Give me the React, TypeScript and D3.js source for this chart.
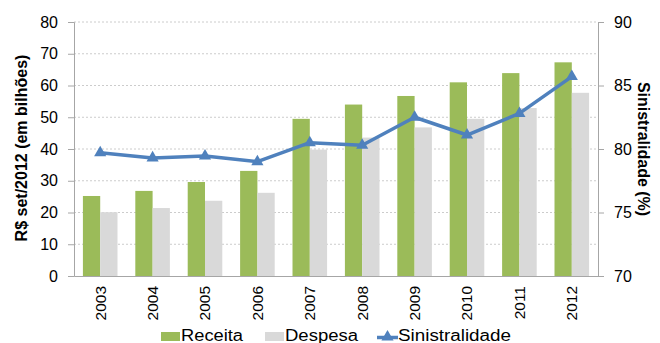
import React, { useEffect, useRef } from 'react';
import * as d3 from 'd3';

const years = ['2003', '2004', '2005', '2006', '2007', '2008', '2009', '2010', '2011', '2012'];
const receita = [25.2, 26.8, 29.6, 33.1, 49.5, 54.0, 56.7, 61.0, 63.9, 67.3];
const despesa = [20.1, 21.4, 23.7, 26.2, 39.8, 43.6, 46.8, 49.5, 52.9, 57.7];
const sinistralidade = [79.7, 79.3, 79.45, 79.0, 80.5, 80.3, 82.5, 81.1, 82.8, 85.7];
const leftTicks = [0, 10, 20, 30, 40, 50, 60, 70, 80];
const rightTicks = [70, 75, 80, 85, 90];

const W = 660;
const H = 343;
const FONT = 'Liberation Sans, Arial, sans-serif';

const App: React.FC = () => {
  const svgRef = useRef<SVGSVGElement>(null);

  useEffect(() => {
    if (!svgRef.current) return;
    const svg = d3.select(svgRef.current);
    svg.selectAll('*').remove();

    const margin = { top: 22, right: 62, bottom: 67, left: 74 };
    const width = W - margin.left - margin.right;
    const height = H - margin.top - margin.bottom;

    const g = svg.append('g').attr('transform', `translate(${margin.left},${margin.top})`);

    const x = d3.scaleBand().domain(years).range([0, width]).paddingInner(0.34).paddingOuter(0.17);
    const sub = d3.scaleBand().domain(['r', 'd']).range([0, x.bandwidth()]);
    const yL = d3.scaleLinear().domain([0, 80]).range([height, 0]);
    const yR = d3.scaleLinear().domain([70, 90]).range([height, 0]);

    // gridlines
    g.selectAll('.grid')
      .data(leftTicks.filter(t => t > 0))
      .enter()
      .append('line')
      .attr('x1', 0)
      .attr('x2', width)
      .attr('y1', d => yL(d))
      .attr('y2', d => yL(d))
      .attr('stroke', '#cccccc')
      .attr('stroke-dasharray', '2,2')
      .attr('stroke-width', 1);

    // bars
    g.selectAll('.rec')
      .data(receita)
      .enter()
      .append('rect')
      .attr('x', (_d, i) => (x(years[i]) || 0) + (sub('r') || 0))
      .attr('y', d => yL(d))
      .attr('width', sub.bandwidth())
      .attr('height', d => height - yL(d))
      .attr('fill', '#9bbb59');

    g.selectAll('.des')
      .data(despesa)
      .enter()
      .append('rect')
      .attr('x', (_d, i) => (x(years[i]) || 0) + (sub('d') || 0))
      .attr('y', d => yL(d))
      .attr('width', sub.bandwidth())
      .attr('height', d => height - yL(d))
      .attr('fill', '#d9d9d9');

    // left axis
    const axL = g.append('g').call(d3.axisLeft(yL).tickValues(leftTicks).tickSize(6).tickPadding(10));
    axL.select('.domain').attr('stroke', '#a6a6a6');
    axL.selectAll('line').attr('stroke', '#a6a6a6');
    axL.selectAll('text').attr('font-family', FONT).attr('font-size', 16).attr('fill', '#000');

    // right axis
    const axR = g
      .append('g')
      .attr('transform', `translate(${width},0)`)
      .call(d3.axisRight(yR).tickValues(rightTicks).tickSize(6).tickPadding(10));
    axR.select('.domain').attr('stroke', '#a6a6a6');
    axR.selectAll('line').attr('stroke', '#a6a6a6');
    axR.selectAll('text').attr('font-family', FONT).attr('font-size', 16).attr('fill', '#000');

    // bottom axis
    const axB = g
      .append('g')
      .attr('transform', `translate(0,${height})`)
      .call(d3.axisBottom(x).tickSize(0).tickPadding(0));
    axB.select('.domain').attr('stroke', '#a6a6a6');
    axB
      .selectAll('text')
      .attr('font-family', FONT)
      .attr('font-size', 15.5)
      .attr('fill', '#000')
      .attr('transform', 'rotate(-90)')
      .attr('x', -10)
      .attr('y', 0)
      .attr('dy', '0.35em')
      .style('text-anchor', 'end');

    // line
    const cx = (i: number) => (x(years[i]) || 0) + x.bandwidth() / 2;
    const line = d3
      .line<number>()
      .x((_d, i) => cx(i))
      .y(d => yR(d));
    g.append('path')
      .datum(sinistralidade)
      .attr('d', line)
      .attr('fill', 'none')
      .attr('stroke', '#4f81bd')
      .attr('stroke-width', 3.5)
      .attr('stroke-linejoin', 'round');

    const tri = d3.symbol().type(d3.symbolTriangle).size(64);
    g.selectAll('.mk')
      .data(sinistralidade)
      .enter()
      .append('path')
      .attr('d', tri)
      .attr('transform', (d, i) => `translate(${cx(i)},${yR(d)})`)
      .attr('fill', '#4f81bd');

    // axis titles
    svg
      .append('text')
      .attr('transform', `translate(21,${margin.top + height / 2 - 1}) rotate(-90)`)
      .attr('text-anchor', 'middle')
      .attr('dy', '0.35em')
      .attr('font-family', FONT)
      .attr('font-size', 16)
      .attr('font-weight', 'bold')
      .text('R$ set/2012 (em bilhões)');

    svg
      .append('text')
      .attr('transform', `translate(644,${margin.top + height / 2}) rotate(90)`)
      .attr('text-anchor', 'middle')
      .attr('dy', '0.35em')
      .attr('font-family', FONT)
      .attr('font-size', 16)
      .attr('font-weight', 'bold')
      .text('Sinistralidade (%)');

    // legend
    const base = 341;
    const lg = svg.append('g').attr('font-family', FONT).attr('font-size', 16);
    lg.append('rect').attr('x', 161).attr('y', 332).attr('width', 19).attr('height', 9).attr('fill', '#9bbb59');
    lg.append('text').attr('x', 181).attr('y', base).attr('textLength', 62).attr('lengthAdjust', 'spacingAndGlyphs').text('Receita');
    lg.append('rect').attr('x', 265).attr('y', 332).attr('width', 19).attr('height', 9).attr('fill', '#d9d9d9');
    lg.append('text').attr('x', 285).attr('y', base).attr('textLength', 73).attr('lengthAdjust', 'spacingAndGlyphs').text('Despesa');
    lg.append('line')
      .attr('x1', 377)
      .attr('x2', 398)
      .attr('y1', 337.5)
      .attr('y2', 337.5)
      .attr('stroke', '#4f81bd')
      .attr('stroke-width', 3.5);
    lg.append('path')
      .attr('d', tri)
      .attr('transform', 'translate(387.5,337)')
      .attr('fill', '#4f81bd');
    lg.append('text').attr('x', 398).attr('y', base).attr('textLength', 113).attr('lengthAdjust', 'spacingAndGlyphs').text('Sinistralidade');
  }, []);

  return (
    <svg
      ref={svgRef}
      width={W}
      height={H}
      style={{ position: 'absolute', left: 0, top: 0, display: 'block', background: '#fff' }}
    />
  );
};

export default App;
